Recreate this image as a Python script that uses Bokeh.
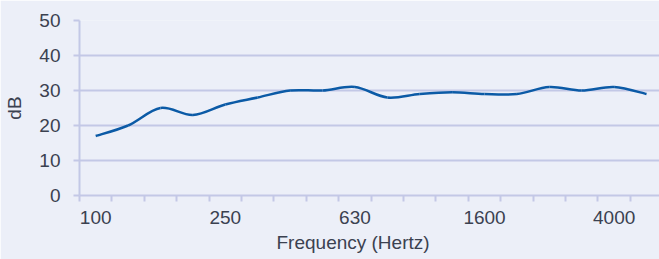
import numpy as np
from bokeh.plotting import figure
from bokeh.models import Range1d, FixedTicker, Title
from bokeh.embed import file_html
from bokeh.resources import INLINE

# Data
freqs = ["100", "125", "160", "200", "250", "315", "400", "500", "630", "800",
         "1000", "1250", "1600", "2000", "2500", "3150", "4000", "5000"]
db_values = [17, 20, 25, 23, 26, 28, 30, 30, 31, 28,
             29, 29.5, 29, 29, 31, 30, 31, 29]
labelled = ["100", "250", "630", "1600", "4000"]
y_ticks = [0, 10, 20, 30, 40, 50]

BG = "#eceff8"
GRID = "#c3c8e6"
TEXT = "#3b4150"
LINE = "#0b5aa6"
FONT = "Liberation Sans"
FS = "19px"

xs = np.arange(len(freqs), dtype=float)
ys = np.array(db_values, dtype=float)

p = figure(width=659, height=259, output_backend="svg", toolbar_location=None,
           x_range=Range1d(-0.5, 17.4), y_range=Range1d(0, 50),
           min_border_left=79, min_border_right=0, min_border_top=20,
           min_border_bottom=64)
p.background_fill_color = BG
p.border_fill_color = BG
p.outline_line_color = None

# smoothed line: Catmull-Rom converted to cubic bezier segments
px = np.concatenate([[xs[0]], xs, [xs[-1]]])
py = np.concatenate([[ys[0]], ys, [ys[-1]]])
x0 = xs[:-1]; y0 = ys[:-1]; x1 = xs[1:]; y1 = ys[1:]
cx0 = x0 + (px[2:-1] - px[:-3]) / 6.0
cy0 = y0 + (py[2:-1] - py[:-3]) / 6.0
cx1 = x1 - (px[3:] - px[1:-2]) / 6.0
cy1 = y1 - (py[3:] - py[1:-2]) / 6.0
p.bezier(x0=x0, y0=y0, x1=x1, y1=y1, cx0=cx0, cy0=cy0, cx1=cx1, cy1=cy1,
         line_color=LINE, line_width=2.5)

# x axis
major_pos = [freqs.index(f) for f in labelled]
xt = FixedTicker(ticks=major_pos, minor_ticks=list(np.arange(-0.5, len(freqs), 1.0)))
p.xaxis.ticker = xt
p.xaxis.major_label_overrides = {i: freqs[i] for i in major_pos}
p.xaxis.major_tick_line_color = None
p.xaxis.major_tick_out = 6
p.xaxis.minor_tick_line_color = GRID
p.xaxis.minor_tick_line_width = 2
p.xaxis.minor_tick_out = 6
p.xaxis.minor_tick_in = 0
p.xaxis.axis_line_color = GRID
p.xaxis.axis_line_width = 2
p.xaxis.major_label_standoff = 9
p.xaxis.major_label_text_font = FONT
p.xaxis.major_label_text_font_size = FS
p.xaxis.major_label_text_color = TEXT

# y axis
p.yaxis.ticker = FixedTicker(ticks=y_ticks)
p.yaxis.minor_tick_line_color = None
p.yaxis.major_tick_line_color = GRID
p.yaxis.major_tick_line_width = 2
p.yaxis.major_tick_out = 6
p.yaxis.major_tick_in = 0
p.yaxis.axis_line_color = GRID
p.yaxis.axis_line_width = 2
p.yaxis.major_label_standoff = 13
p.yaxis.major_label_text_font = FONT
p.yaxis.major_label_text_font_size = FS
p.yaxis.major_label_text_color = TEXT
p.yaxis.axis_label = "dB"
p.yaxis.axis_label_standoff = 11
p.yaxis.axis_label_text_font = FONT
p.yaxis.axis_label_text_font_size = FS
p.yaxis.axis_label_text_font_style = "normal"
p.yaxis.axis_label_text_color = TEXT

p.xgrid.grid_line_color = None
p.ygrid.ticker = FixedTicker(ticks=y_ticks)
p.ygrid.grid_line_color = GRID
p.ygrid.grid_line_width = 2

xtitle = Title(text="Frequency (Hertz)", align="left", offset=197, standoff=7,
               text_font=FONT, text_font_size=FS, text_font_style="normal",
               text_color=TEXT)
p.add_layout(xtitle, "below")

open("out.html", "w").write(file_html(p, INLINE))
